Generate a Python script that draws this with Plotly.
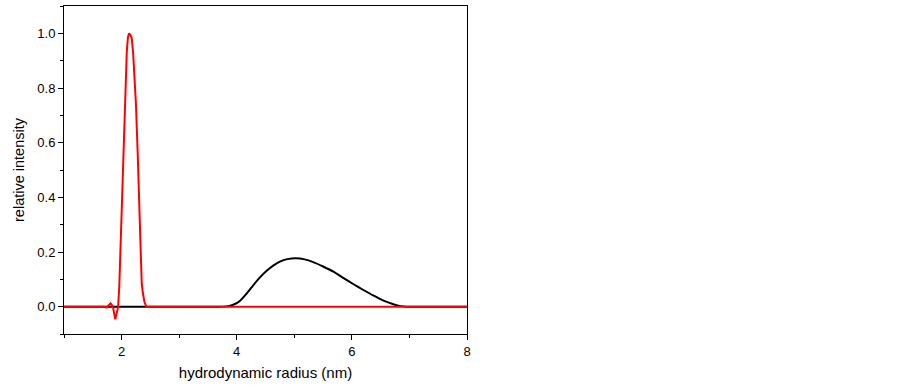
import plotly.graph_objects as go

# Black curve (larger particles)
black_x = [1.0, 3.70, 3.85, 3.95, 4.06, 4.18, 4.29, 4.40, 4.52, 4.64, 4.75, 4.88, 5.03, 5.18, 5.33, 5.50, 5.68, 5.85, 6.03, 6.20, 6.38, 6.55, 6.72, 6.85, 6.95, 8.0]
black_y = [0.0, 0.0, 0.002, 0.008, 0.022, 0.050, 0.079, 0.106, 0.131, 0.151, 0.165, 0.174, 0.177, 0.173, 0.163, 0.147, 0.128, 0.105, 0.082, 0.061, 0.040, 0.022, 0.009, 0.002, 0.0, 0.0]

# Red curve (small particles)
red_x = [1.0, 1.70, 1.74, 1.78, 1.81, 1.85, 1.89, 1.92, 1.94, 1.96, 2.00, 2.024, 2.045, 2.065, 2.09, 2.11, 2.13, 2.15, 2.175, 2.20, 2.225, 2.25, 2.28, 2.30, 2.33, 2.35, 2.37, 2.40, 2.43, 8.0]
red_y = [0.0, 0.0, -0.003, 0.005, 0.012, 0.0, -0.046, -0.02, 0.0, 0.073, 0.35, 0.56, 0.70, 0.806, 0.93, 0.985, 1.0, 0.995, 0.985, 0.93, 0.85, 0.74, 0.561, 0.40, 0.17, 0.085, 0.05, 0.015, 0.0, 0.0]

x_ticks = [2, 4, 6, 8]
y_ticks = [0.0, 0.2, 0.4, 0.6, 0.8, 1.0]
y_tick_labels = ["0.0", "0.2", "0.4", "0.6", "0.8", "1.0"]

font = "Arial, Liberation Sans, sans-serif"

fig = go.Figure()
fig.add_trace(go.Scatter(x=black_x, y=black_y, mode="lines",
                         line=dict(color="black", width=2, shape="spline", smoothing=0.6),
                         showlegend=False))
fig.add_trace(go.Scatter(x=red_x, y=red_y, mode="lines",
                         line=dict(color="#ff0000", width=2),
                         showlegend=False))

fig.update_layout(
    width=903, height=390,
    margin=dict(l=64, r=436, t=6, b=56),
    paper_bgcolor="white", plot_bgcolor="white",
    font=dict(family=font, color="black", size=13),
    xaxis=dict(range=[1, 8], tickvals=x_ticks, ticks="outside", ticklen=5, tickwidth=1,
               tickcolor="black", showline=True, linecolor="black", linewidth=1,
               mirror=True, showgrid=False, zeroline=False,
               minor=dict(dtick=1, tick0=1, ticks="outside", ticklen=3, tickcolor="black", showgrid=False),
               title=dict(text="hydrodynamic radius (nm)", font=dict(size=15), standoff=9),
               tickfont=dict(size=13)),
    yaxis=dict(range=[-0.1, 1.1], tickvals=y_ticks, ticktext=y_tick_labels, ticks="outside",
               ticklen=5, tickwidth=1, tickcolor="black", showline=True, linecolor="black",
               linewidth=1, mirror=True, showgrid=False, zeroline=False,
               minor=dict(dtick=0.1, tick0=-0.1, ticks="outside", ticklen=3, tickcolor="black", showgrid=False),
               title=dict(text="relative intensity", font=dict(size=14.5), standoff=9),
               tickfont=dict(size=13)),
)

fig.write_html("out.html", config={"displayModeBar": False},
               post_script="document.body.style.margin='0';document.body.style.padding='0';")
